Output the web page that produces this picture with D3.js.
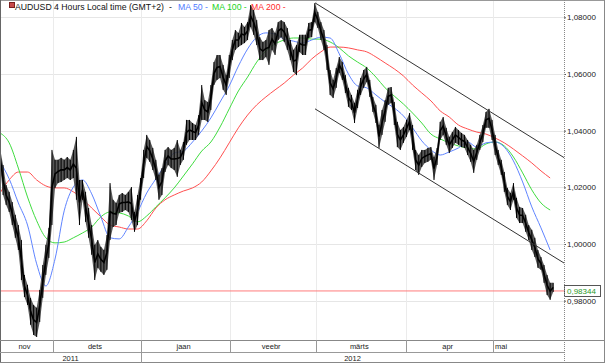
<!DOCTYPE html>
<html><head><meta charset="utf-8">
<script src="https://cdn.jsdelivr.net/npm/d3@7"></script>
<style>
body{margin:0;background:#fff}
svg{display:block}
text{font-family:"Liberation Sans",Arial,sans-serif}
</style>
</head><body>
<svg id="c" width="605" height="363"></svg>
<script>
// ---------- data (AUDUSD 4h) ----------
const sampleStepDays = 0.75;   // one sample per 18h of trading time
const highs = [1.0339,1.0279,1.0208,1.0184,1.0148,1.0103,1.0067,1.0014,0.9891,0.9856,
0.9810,0.9785,0.9775,0.9838,0.9926,0.9997,1.0057,1.0332,1.0297,1.0297,
1.0304,1.0297,1.0307,1.0297,1.0332,1.0378,1.0226,1.0226,1.0184,1.0127,
1.0067,0.9997,1.0014,0.9990,0.9979,1.0032,1.0215,1.0156,1.0145,1.0173,
1.0180,1.0173,1.0184,1.0201,1.0113,1.0173,1.0233,1.0332,1.0385,1.0367,
1.0339,1.0297,1.0244,1.0268,1.0332,1.0342,1.0332,1.0339,1.0367,1.0332,
1.0360,1.0438,1.0438,1.0427,1.0420,1.0455,1.0561,1.0508,1.0501,1.0561,
1.0642,1.0667,1.0667,1.0632,1.0596,1.0667,1.0720,1.0755,1.0745,1.0780,
1.0766,1.0783,1.0843,1.0826,1.0790,1.0730,1.0713,1.0720,1.0755,1.0762,
1.0745,1.0783,1.0790,1.0783,1.0762,1.0720,1.0685,1.0702,1.0738,1.0738,
1.0738,1.0780,1.0783,1.0850,1.0819,1.0783,1.0755,1.0702,1.0614,1.0579,
1.0621,1.0660,1.0642,1.0596,1.0551,1.0526,1.0498,1.0544,1.0586,1.0614,
1.0625,1.0579,1.0519,1.0491,1.0420,1.0473,1.0508,1.0551,1.0554,1.0501,
1.0431,1.0402,1.0413,1.0438,1.0462,1.0420,1.0332,1.0314,1.0332,1.0332,
1.0339,1.0342,1.0307,1.0339,1.0431,1.0448,1.0410,1.0378,1.0395,1.0413,
1.0402,1.0392,1.0385,1.0367,1.0350,1.0332,1.0350,1.0385,1.0420,1.0466,
1.0477,1.0438,1.0385,1.0332,1.0297,1.0254,1.0198,1.0180,1.0215,1.0163,
1.0131,1.0127,1.0103,1.0067,1.0050,1.0022,0.9979,0.9954,0.9926,0.9891,
0.9863,0.9863];
const lows = [1.0279,1.0173,1.0138,1.0113,1.0067,1.0022,0.9979,0.9873,0.9813,0.9785,
0.9715,0.9679,0.9672,0.9725,0.9810,0.9891,0.9951,1.0067,1.0198,1.0215,
1.0219,1.0226,1.0233,1.0226,1.0233,1.0156,1.0067,1.0156,1.0078,1.0022,
0.9962,0.9873,0.9916,0.9902,0.9891,0.9909,1.0014,1.0060,1.0067,1.0110,
1.0113,1.0120,1.0113,1.0085,1.0043,1.0067,1.0156,1.0233,1.0304,1.0290,
1.0261,1.0226,1.0156,1.0173,1.0254,1.0279,1.0268,1.0261,1.0237,1.0279,
1.0297,1.0350,1.0367,1.0367,1.0367,1.0385,1.0438,1.0438,1.0431,1.0473,
1.0561,1.0579,1.0586,1.0544,1.0526,1.0586,1.0649,1.0685,1.0695,1.0702,
1.0709,1.0720,1.0766,1.0738,1.0702,1.0649,1.0649,1.0660,1.0632,1.0685,
1.0667,1.0720,1.0730,1.0713,1.0685,1.0649,1.0607,1.0596,1.0678,1.0667,
1.0667,1.0727,1.0730,1.0783,1.0762,1.0720,1.0685,1.0614,1.0526,1.0515,
1.0551,1.0604,1.0579,1.0533,1.0484,1.0473,1.0427,1.0480,1.0526,1.0551,
1.0572,1.0519,1.0466,1.0427,1.0339,1.0385,1.0431,1.0491,1.0498,1.0420,
1.0342,1.0332,1.0357,1.0378,1.0402,1.0332,1.0261,1.0244,1.0272,1.0286,
1.0290,1.0297,1.0226,1.0279,1.0367,1.0385,1.0350,1.0321,1.0339,1.0357,
1.0350,1.0342,1.0339,1.0314,1.0290,1.0251,1.0297,1.0332,1.0360,1.0410,
1.0410,1.0367,1.0314,1.0279,1.0244,1.0184,1.0138,1.0120,1.0156,1.0092,
1.0074,1.0074,1.0043,1.0014,0.9979,0.9954,0.9916,0.9909,0.9863,0.9820,
0.9803,0.9831];

const maStepDays = 2.25;
const ma50 = [1.0290,1.0230,1.0145,1.0067,0.9930,0.9852,0.9947,1.0117,1.0201,1.0226,
1.0177,1.0096,1.0022,1.0018,1.0060,1.0113,1.0180,1.0230,1.0279,1.0321,
1.0328,1.0360,1.0399,1.0445,1.0501,1.0558,1.0628,1.0688,1.0730,1.0745,
1.0741,1.0723,1.0716,1.0709,1.0720,1.0730,1.0727,1.0671,1.0600,1.0558,
1.0551,1.0526,1.0501,1.0480,1.0452,1.0410,1.0364,1.0332,1.0314,1.0325,
1.0339,1.0360,1.0342,1.0357,1.0360,1.0342,1.0293,1.0219,1.0131,1.0057,
0.9979];
const ma100 = [1.0392,1.0357,1.0268,1.0166,1.0082,1.0022,1.0004,1.0007,1.0022,1.0039,
1.0060,1.0096,1.0113,1.0110,1.0099,1.0078,1.0099,1.0131,1.0163,1.0198,
1.0240,1.0283,1.0328,1.0360,1.0413,1.0477,1.0540,1.0589,1.0642,1.0681,
1.0706,1.0720,1.0727,1.0727,1.0723,1.0723,1.0713,1.0692,1.0664,1.0642,
1.0621,1.0589,1.0551,1.0522,1.0494,1.0462,1.0427,1.0388,1.0371,1.0357,
1.0346,1.0339,1.0335,1.0353,1.0360,1.0346,1.0307,1.0251,1.0191,1.0145,
1.0120];
const ma200 = [1.0180,1.0226,1.0254,1.0254,1.0226,1.0205,1.0198,1.0198,1.0184,1.0159,
1.0127,1.0096,1.0067,1.0060,1.0053,1.0053,1.0082,1.0127,1.0156,1.0173,
1.0187,1.0198,1.0219,1.0258,1.0304,1.0357,1.0410,1.0455,1.0491,1.0519,
1.0544,1.0568,1.0596,1.0621,1.0653,1.0678,1.0695,1.0695,1.0692,1.0685,
1.0678,1.0660,1.0639,1.0618,1.0593,1.0561,1.0533,1.0505,1.0470,1.0448,
1.0420,1.0406,1.0395,1.0388,1.0374,1.0357,1.0335,1.0311,1.0286,1.0258,
1.0233];

const lastPrice = 0.98344;
const channelDays  = [77.3, 138.4];
const channelUpper = [1.0851, 1.0305];
const channelLower = [1.0477, 0.9933];

const yTicks = [0.98, 1.00, 1.02, 1.04, 1.06, 1.08];
const monthLabels = ["nov","dets","jaan","veebr","märts","apr","mai"];
const monthStartDays = [0, 13, 34.6, 56.5, 77.6, 99.7, 121];
const yearLabels = ["2011","2012"];
const yearStartDays = [0, 34.6];
const lastDay = 138.4;

// ---------- layout ----------
const W = 605, H = 363;
const plotR = 564, plotB = 340, monthB = 352;
const svg = d3.select("#c");
const x = d3.scaleLinear().domain([0, lastDay]).range([0, plotR]);
const y = d3.scaleLinear().domain([0.98, 1.08]).range([300.7, 17.3]);

svg.append("rect").attr("width", W).attr("height", H).attr("fill", "#fff");

svg.append("defs").append("clipPath").attr("id","pc")
  .append("rect").attr("x",0).attr("y",0).attr("width",plotR).attr("height",plotB);

// gridlines
svg.append("g").selectAll("line").data(yTicks).join("line")
  .attr("x1", 0).attr("x2", plotR)
  .attr("y1", d => Math.round(y(d)) + 0.5).attr("y2", d => Math.round(y(d)) + 0.5)
  .attr("stroke", "#e6e6e6");
svg.append("g").selectAll("line").data(monthStartDays.slice(1)).join("line")
  .attr("x1", d => Math.round(x(d)) + 0.5).attr("x2", d => Math.round(x(d)) + 0.5)
  .attr("y1", 0).attr("y2", plotB)
  .attr("stroke", "#ebebeb");

const plot = svg.append("g").attr("clip-path", "url(#pc)");

// last price line
plot.append("line").attr("x1", 0).attr("x2", plotR)
  .attr("y1", y(lastPrice)).attr("y2", y(lastPrice))
  .attr("stroke", "#ff7b7b").attr("stroke-width", 1);

// moving averages
const maLine = d3.line().x((d, i) => x(i * maStepDays)).y(d => y(d)).curve(d3.curveMonotoneX);
[[ma200, "#ff4f4f"], [ma100, "#3fdc3f"], [ma50, "#5f84ff"]].forEach(([arr, col]) => {
  plot.append("path").attr("d", maLine(arr)).attr("fill", "none")
    .attr("stroke", col).attr("stroke-width", 1);
});

// price: high-low envelope of the 4h bars, with black bars and a dark core
const idx = d3.range(highs.length);
const px = i => x(i * sampleStepDays);
const band = d3.area().x(px).y0(i => y(lows[i])).y1(i => y(highs[i]));
plot.append("path").attr("d", band(idx)).attr("fill", "#3c3c3c").attr("fill-opacity", 0.85);
plot.append("g").selectAll("line").data(idx).join("line")
  .attr("x1", px).attr("x2", px)
  .attr("y1", i => y(highs[i])).attr("y2", i => y(lows[i]))
  .attr("stroke", "#000").attr("stroke-width", 1);
const mid = d3.line().x(px).y(i => y((highs[i] + lows[i]) / 2));
plot.append("path").attr("d", mid(idx)).attr("fill", "none")
  .attr("stroke", "#000").attr("stroke-width", 1.6);

// trend channel
[channelUpper, channelLower].forEach(arr => {
  plot.append("line")
    .attr("x1", x(channelDays[0])).attr("y1", y(arr[0]))
    .attr("x2", x(channelDays[1])).attr("y2", y(arr[1]))
    .attr("stroke", "#333").attr("stroke-width", 1);
});

// y axis on right
const fmt = d => d3.format(".5f")(d).replace(".", ",");
const ya = svg.append("g").attr("transform", `translate(${plotR},0)`)
  .call(d3.axisRight(y).tickValues(yTicks).tickSize(2).tickPadding(1).tickFormat(fmt));
ya.select(".domain").remove();
ya.selectAll("line").attr("stroke", "#555");
ya.selectAll("text").attr("font-size", 8).attr("fill", "#222")
  .attr("font-family", '"Liberation Sans",Arial,sans-serif');

// last price tag
svg.append("rect").attr("x", plotR + 0.5).attr("y", Math.round(y(lastPrice)) - 5.5)
  .attr("width", 36).attr("height", 11).attr("fill", "#fff").attr("stroke", "#555");
svg.append("text").attr("x", plotR + 3).attr("y", y(lastPrice)).attr("dy", "0.35em")
  .attr("font-size", 8).attr("fill", "#2a9a2a").text(fmt(lastPrice));

// frame
svg.append("line").attr("x1", 0).attr("x2", W).attr("y1", 0.5).attr("y2", 0.5).attr("stroke", "#999");
svg.append("line").attr("x1", 0.5).attr("x2", 0.5).attr("y1", 0).attr("y2", H).attr("stroke", "#666");
svg.append("line").attr("x1", W - 0.5).attr("x2", W - 0.5).attr("y1", 0).attr("y2", H).attr("stroke", "#888");
svg.append("line").attr("x1", 0).attr("x2", W).attr("y1", plotB + 0.5).attr("y2", plotB + 0.5).attr("stroke", "#888");
svg.append("line").attr("x1", 0).attr("x2", plotR).attr("y1", monthB + 0.5).attr("y2", monthB + 0.5).attr("stroke", "#999");
svg.append("line").attr("x1", 0).attr("x2", W).attr("y1", H - 0.5).attr("y2", H - 0.5).attr("stroke", "#888");
svg.append("line").attr("x1", plotR + 0.5).attr("x2", plotR + 0.5).attr("y1", 0).attr("y2", H)
  .attr("stroke", "#888").attr("stroke-dasharray", "1,1");

// month row
svg.append("g").selectAll("line").data(monthStartDays.slice(1)).join("line")
  .attr("x1", d => Math.round(x(d)) + 0.5).attr("x2", d => Math.round(x(d)) + 0.5)
  .attr("y1", plotB).attr("y2", monthB).attr("stroke", "#999");
svg.append("g").selectAll("text").data(monthLabels).join("text")
  .attr("x", (d, i) => i < monthLabels.length - 1
      ? (x(monthStartDays[i]) + x(monthStartDays[i + 1])) / 2 - 2
      : x(monthStartDays[i]) + 2)
  .attr("text-anchor", (d, i) => i < monthLabels.length - 1 ? "middle" : "start")
  .attr("y", plotB + 9).attr("font-size", 7.5).attr("fill", "#222").text(d => d);

// year row
svg.append("g").selectAll("line").data(yearStartDays.slice(1)).join("line")
  .attr("x1", d => Math.round(x(d)) + 0.5).attr("x2", d => Math.round(x(d)) + 0.5)
  .attr("y1", monthB).attr("y2", H).attr("stroke", "#999");
svg.append("g").selectAll("text").data(yearLabels).join("text")
  .attr("x", (d, i) => (x(yearStartDays[i]) + (i < yearLabels.length - 1 ? x(yearStartDays[i + 1]) : plotR)) / 2)
  .attr("text-anchor", "middle")
  .attr("y", monthB + 9).attr("font-size", 7.5).attr("fill", "#222").text(d => d);

// title
svg.append("rect").attr("x", 9.5).attr("y", 2.5).attr("width", 5).attr("height", 5)
  .attr("fill", "#c84a4a").attr("stroke", "#7a1f1f");
const title = [
  {t: "AUDUSD 4 Hours Local time (GMT+2)", x: 15, c: "#111"},
  {t: "-", x: 169, c: "#111"},
  {t: "MA 50 -", x: 178, c: "#4f7bff"},
  {t: "MA 100 -", x: 212, c: "#22d322"},
  {t: "MA 200 -", x: 251, c: "#ff2a2a"}
];
svg.append("g").selectAll("text").data(title).join("text")
  .attr("x", d => d.x).attr("y", 9.5).attr("font-size", 8.7)
  .attr("fill", d => d.c).text(d => d.t);
</script>
</body></html>
